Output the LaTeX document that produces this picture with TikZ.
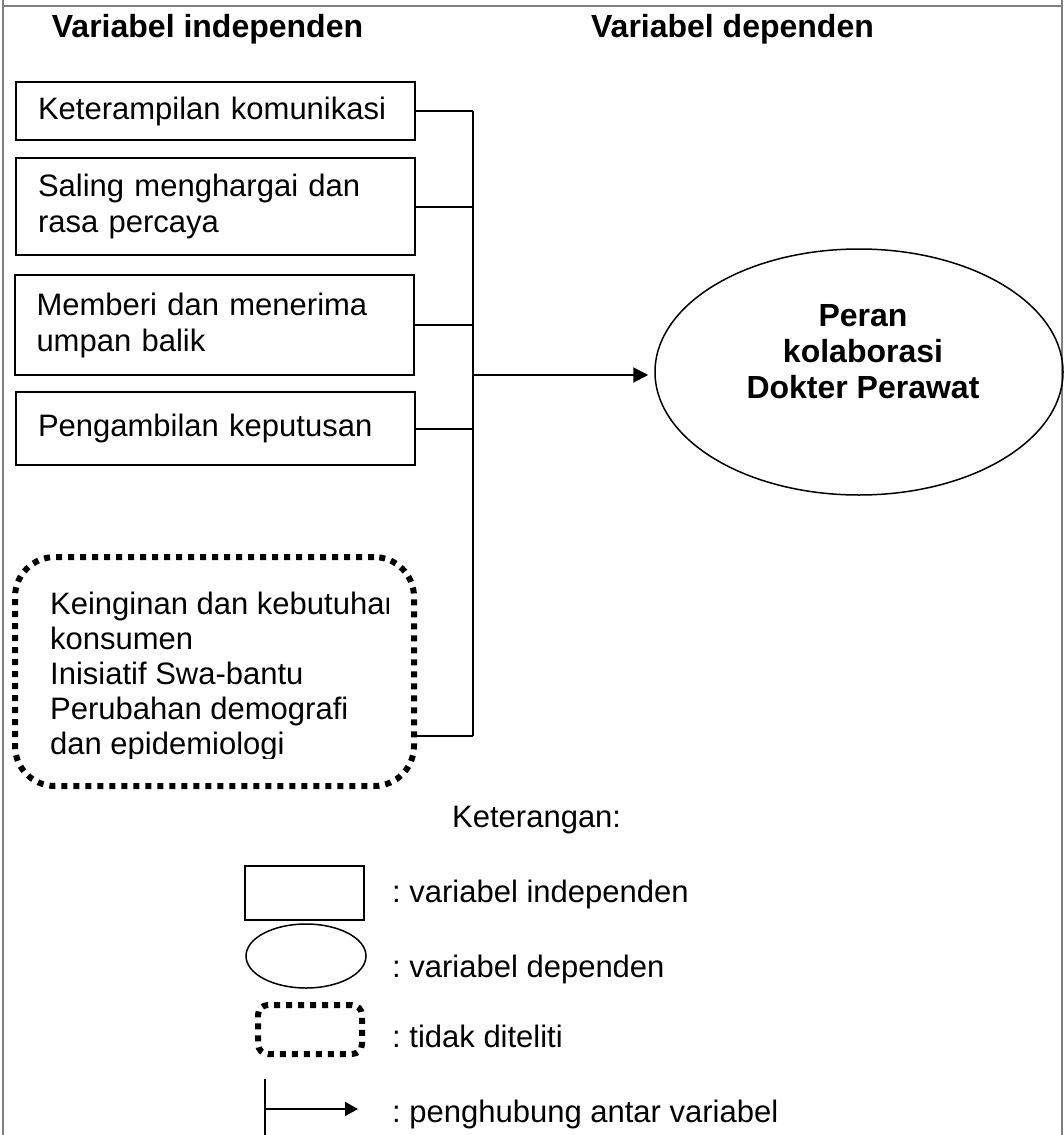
\documentclass[tikz,border=0pt]{standalone}
\usepackage{fontspec}
\setmainfont{Liberation Sans}
\usetikzlibrary{shapes.geometric,arrows.meta}
\frenchspacing

\begin{document}
\begin{tikzpicture}[x=1pt, y=-1pt,
    txt/.style={inner sep=0pt, font=\fontsize{31}{36}\selectfont},
    head/.style={txt, font=\bfseries\fontsize{32}{36}\selectfont},
    varbox/.style={txt, draw, line width=2pt, minimum width=399pt, text width=355pt, inner xsep=22pt, align=left},
    dotbox/.style={draw, line width=6pt, dash pattern=on 6pt off 6pt},
    link/.style={line width=2pt},
    arrow/.style={link, -{Triangle[length=15pt, width=15pt]}},
    frame/.style={line width=2pt, color=gray}]
    \useasboundingbox (0,0) rectangle (1064,1135);
    % table cell
    \draw[frame] (3,0) -- (3,1135);
    \draw[frame] (1062,0) -- (1062,1135);
    \draw[frame] (3,6) -- (1062,6);

    \node[head, anchor=base] (hind) at (207.5,37) {Variabel independen};
    \node[head, anchor=base] (hdep) at (732.5,37) {Variabel dependen};

    \node[varbox, minimum height=58pt] (k1) at (215.5,111) {Keterampilan komunikasi};
    \node[varbox, minimum height=97pt] (k2) at (215.5,206.5) {Saling menghargai dan\\ rasa percaya};
    \node[varbox, minimum height=100pt] (k3) at (214,325) {Memberi dan menerima\\ umpan balik};
    \node[varbox, minimum height=73pt] (k4) at (215.5,428.5) {Pengambilan keputusan};

    \begin{scope}
        \clip (20,570) rectangle (388,758);
        \node[txt, font=\fontsize{31}{35}\selectfont, anchor=north west, align=left] (tdktext) at (50,592)
            {Keinginan dan kebutuhan\\ konsumen\\ Inisiatif Swa-bantu\\ Perubahan demografi\\ dan epidemiologi};
    \end{scope}
    \node[dotbox, rounded corners=40pt, minimum width=399pt, minimum height=229pt] (tdk) at (214.5,671.5) {};

    \node[draw, ellipse, line width=1.5pt, minimum width=408pt, minimum height=246pt, inner sep=0pt] (dep) at (859,372) {};
    \node[head, align=center] (deptext) at (863,352) {Peran\\ kolaborasi\\ Dokter Perawat};

    \coordinate (bus) at (473,0);
    \coordinate (k5) at (414,736);
    \coordinate (arr) at (473,375);
    \foreach \k in {k1,k2,k3,k4}
        \draw[link] (\k.east) -- (\k.east -| bus);
    \draw[link] (k5) -- (k5 -| bus);
    \draw[link] (k1.east -| bus) -- (k5 -| bus);
    \draw[arrow, shorten >=6pt] (arr) -- (arr -| dep.west);

    % keterangan
    \node[txt, anchor=base west] (ket) at (452,827) {Keterangan:};
    \node[draw, line width=2pt, minimum width=119pt, minimum height=54pt] (lgbox) at (304.5,893) {};
    \node[draw, ellipse, line width=1.5pt, minimum width=120pt, minimum height=64pt, inner sep=0pt] (lgell) at (306,956) {};
    \node[dotbox, rounded corners=10pt, minimum width=104pt, minimum height=49pt] (lgdot) at (310,1029.5) {};
    \coordinate (lgtop) at (265,1079);
    \coordinate (lgbot) at (265,1140);
    \coordinate (lgmid) at (265,1109);
    \coordinate (lgtip) at (358,1109);
    \draw[link] (lgtop) -- (lgbot);
    \draw[link, -{Triangle[length=13pt, width=14pt]}] (lgmid) -- (lgtip);

    \node[txt, anchor=base west] (lg1) at (392,902) {: variabel independen};
    \node[txt, anchor=base west] (lg2) at (392,977) {: variabel dependen};
    \node[txt, anchor=base west] (lg3) at (392,1047) {: tidak diteliti};
    \node[txt, anchor=base west] (lg4) at (392,1122) {: penghubung antar variabel};
\end{tikzpicture}
\end{document}
